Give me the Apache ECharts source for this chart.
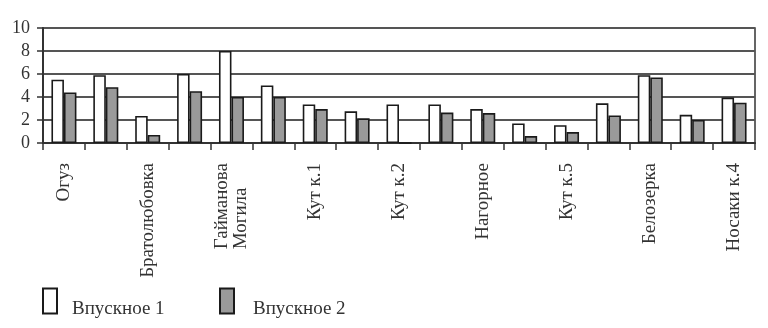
<!DOCTYPE html>
<html>
<head>
<meta charset="utf-8">
<script src="https://cdn.jsdelivr.net/npm/echarts@6/dist/echarts.min.js"></script>
<style>html,body{margin:0;padding:0;background:#fff}#c{width:768px;height:328px}</style>
</head>
<body>
<div id="c"></div>
<script>
var categories = ['Огуз','','Братолюбовка','','Гайманова\nМогила','','Кут к.1','','Кут к.2','','Нагорное','','Кут к.5','','Белозерка','','Носаки к.4'];
var series1Name = 'Впускное 1';
var series2Name = 'Впускное 2';
var series1 = [5.5, 5.9, 2.35, 6.0, 8.0, 5.0, 3.35, 2.75, 3.35, 3.35, 2.95, 1.7, 1.55, 3.45, 5.9, 2.45, 3.95];
var series2 = [4.4, 4.85, 0.7, 4.5, 4.0, 4.0, 2.95, 2.15, 0, 2.65, 2.6, 0.6, 0.95, 2.4, 5.7, 2.0, 3.5];
var yTicks = [0, 2, 4, 6, 8, 10];

var FONT = '"Liberation Serif", "Times New Roman", serif';
function legendText(padLeft) {
  return {
    fontFamily: FONT, fontSize: 19, color: '#333',
    rich: {
      s: {fontFamily: FONT, fontSize: 10, lineHeight: 17, height: 17},
      t: {fontFamily: FONT, fontSize: 19, color: '#333', lineHeight: 19, padding: [0, 0, 0, padLeft], align: 'left'}
    }
  };
}
var chart = echarts.init(document.getElementById('c'), null, {renderer: 'canvas'});
chart.setOption({
  animation: false,
  backgroundColor: '#fff',
  grid: {left: 43, right: 13, top: 28, bottom: 185, show: true, borderColor: '#333', borderWidth: 1.5, backgroundColor: 'transparent'},
  legend: [
    {data: [series1Name], left: 42, top: 283, padding: 0, itemWidth: 14, itemHeight: 25, icon: 'rect',
     formatter: function (n) { return '{s| }\n{t|' + n + '}'; }, textStyle: legendText(10)},
    {data: [series2Name], left: 219, top: 283, padding: 0, itemWidth: 14, itemHeight: 25, icon: 'rect',
     formatter: function (n) { return '{s| }\n{t|' + n + '}'; }, textStyle: legendText(14)}
  ],
  xAxis: {
    type: 'category',
    data: categories,
    boundaryGap: true,
    axisLine: {lineStyle: {color: '#333', width: 2}},
    axisTick: {show: true, interval: 0, length: 7, lineStyle: {color: '#333', width: 1.5}},
    axisLabel: {
      interval: 0, rotate: 90, margin: 20,
      fontFamily: FONT, fontSize: 19, color: '#333', lineHeight: 19,
      formatter: function (v) {
        if (!v) return '';
        return v.split('\n').map(function (s) { return '{a|' + s + '}'; }).join('\n');
      },
      rich: {a: {align: 'left', fontFamily: FONT, fontSize: 19, color: '#333', lineHeight: 19}}
    },
    splitLine: {show: false}
  },
  yAxis: {
    type: 'value',
    min: 0, max: 10, interval: 2,
    axisLine: {show: true, lineStyle: {color: '#333', width: 2}},
    axisTick: {show: true, inside: false, length: 6, lineStyle: {color: '#333', width: 1.5}},
    axisLabel: {margin: 13, fontFamily: FONT, fontSize: 18, color: '#333',
      formatter: function (v) { return yTicks.indexOf(v) >= 0 ? String(v) : ''; }},
    splitLine: {show: true, lineStyle: {color: '#555', width: 2}}
  },
  series: [
    {name: series1Name, type: 'bar', data: series1, barWidth: 12.5, barGap: '0%',
     itemStyle: {color: '#fff', borderColor: '#1a1a1a', borderWidth: 1.6}},
    {name: series2Name, type: 'bar', data: series2, barWidth: 12.5, barGap: '0%',
     itemStyle: {color: '#9a9a9a', borderColor: '#1a1a1a', borderWidth: 1.6}}
  ]
});
</script>
</body>
</html>
